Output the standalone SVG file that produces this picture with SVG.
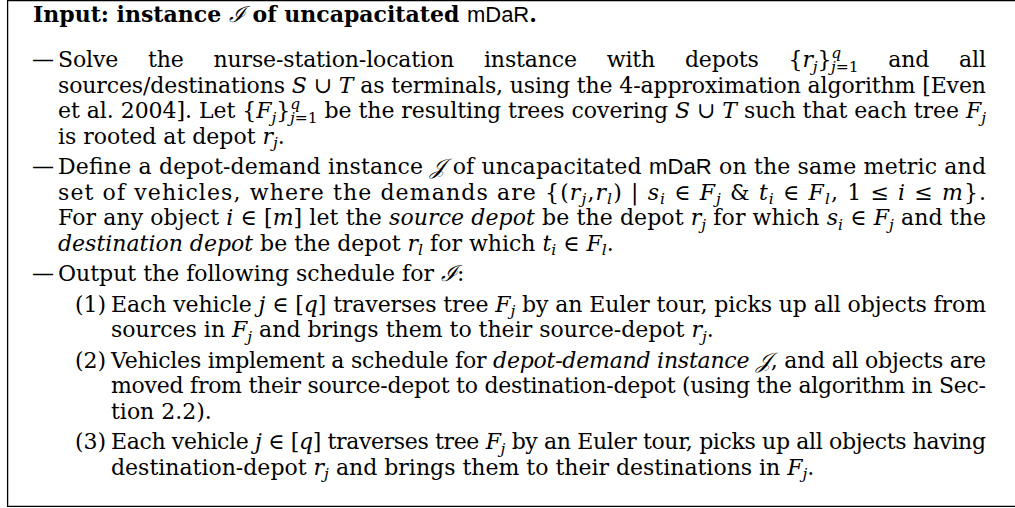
<svg xmlns="http://www.w3.org/2000/svg" width="1015" height="508" viewBox="0 0 1015 508">
<style>
.t{font-family:"DejaVu Serif","Liberation Serif",serif;font-size:22px;fill:#000}
.i{font-style:italic}
.b{font-weight:bold}
.n{font-weight:normal}
.sf{font-family:"Liberation Sans","DejaVu Sans",sans-serif}
.s{font-size:15.5px;font-style:italic}
.box{fill:none;stroke:#000;stroke-width:1.3}
</style>
<rect width="1015" height="508" fill="#fff"/>
<path class="box" d="M1016,0.7 H7.6 V506.3 H1016"/>
<g id="heading">
<text class="t b" x="33" y="22">Input: instance <tspan class="i n">ℐ</tspan> of uncapacitated <tspan class="sf n">mDaR</tspan>.</text>
</g>
<g id="item1">
<text class="t" x="32" y="67">—</text>
<text class="t" x="58" y="67" textLength="928" lengthAdjust="spacing" style="word-spacing:23px">Solve the nurse-station-location instance with depots {<tspan class="i">r</tspan><tspan class="s" dy="4.5">j</tspan><tspan dy="-4.5">}</tspan><tspan class="s" dy="-9">q</tspan><tspan class="s" dx="-10" dy="14">j</tspan><tspan font-size="15.5px">=1</tspan><tspan dy="-5"> and all</tspan></text>
<text class="t" x="58" y="92.5" textLength="928" lengthAdjust="spacing">sources/destinations <tspan class="i">S</tspan> ∪ <tspan class="i">T</tspan> as terminals, using the 4-approximation algorithm [Even</text>
<text class="t" x="58" y="118" textLength="928" lengthAdjust="spacing">et al. 2004]. Let {<tspan class="i">F</tspan><tspan class="s" dy="4.5">j</tspan><tspan dy="-4.5">}</tspan><tspan class="s" dy="-9">q</tspan><tspan class="s" dx="-10" dy="14">j</tspan><tspan font-size="15.5px">=1</tspan><tspan dy="-5"> be the resulting trees covering </tspan><tspan class="i">S</tspan> ∪ <tspan class="i">T</tspan> such that each tree <tspan class="i">F</tspan><tspan class="s" dy="4.5">j</tspan></text>
<text class="t" x="58" y="143.5">is rooted at depot <tspan class="i">r</tspan><tspan class="s" dy="4.5">j</tspan><tspan dy="-4.5">.</tspan></text>
</g>
<g id="item2">
<text class="t" x="32" y="174">—</text>
<text class="t" x="58" y="174" textLength="928" lengthAdjust="spacing">Define a depot-demand instance <tspan class="i">𝒥</tspan> of uncapacitated <tspan class="sf">mDaR</tspan> on the same metric and</text>
<text class="t" x="58" y="199.5" textLength="928" lengthAdjust="spacing">set of vehicles, where the demands are {(<tspan class="i">r</tspan><tspan class="s" dy="4.5">j</tspan><tspan dy="-4.5">,</tspan><tspan class="i">r</tspan><tspan class="s" dy="4.5">l</tspan><tspan dy="-4.5">) | </tspan><tspan class="i">s</tspan><tspan class="s" dy="4.5">i</tspan><tspan dy="-4.5"> ∈ </tspan><tspan class="i">F</tspan><tspan class="s" dy="4.5">j</tspan><tspan dy="-4.5"> &amp; </tspan><tspan class="i">t</tspan><tspan class="s" dy="4.5">i</tspan><tspan dy="-4.5"> ∈ </tspan><tspan class="i">F</tspan><tspan class="s" dy="4.5">l</tspan><tspan dy="-4.5">, 1 ≤ </tspan><tspan class="i">i</tspan> ≤ <tspan class="i">m</tspan>}.</text>
<text class="t" x="58" y="225" textLength="928" lengthAdjust="spacing">For any object <tspan class="i">i</tspan> ∈ [<tspan class="i">m</tspan>] let the <tspan class="i">source depot</tspan> be the depot <tspan class="i">r</tspan><tspan class="s" dy="4.5">j</tspan><tspan dy="-4.5"> for which </tspan><tspan class="i">s</tspan><tspan class="s" dy="4.5">i</tspan><tspan dy="-4.5"> ∈ </tspan><tspan class="i">F</tspan><tspan class="s" dy="4.5">j</tspan><tspan dy="-4.5"> and the</tspan></text>
<text class="t" x="58" y="250.5"><tspan class="i">destination depot</tspan> be the depot <tspan class="i">r</tspan><tspan class="s" dy="4.5">l</tspan><tspan dy="-4.5"> for which </tspan><tspan class="i">t</tspan><tspan class="s" dy="4.5">i</tspan><tspan dy="-4.5"> ∈ </tspan><tspan class="i">F</tspan><tspan class="s" dy="4.5">l</tspan><tspan dy="-4.5">.</tspan></text>
</g>
<g id="item3">
<text class="t" x="32" y="281">—</text>
<text class="t" x="58" y="281">Output the following schedule for <tspan class="i">ℐ</tspan>:</text>
</g>
<g id="step1">
<text class="t" x="75" y="311.5">(1)</text>
<text class="t" x="111" y="311.5" textLength="875" lengthAdjust="spacing">Each vehicle <tspan class="i">j</tspan> ∈ [<tspan class="i">q</tspan>] traverses tree <tspan class="i">F</tspan><tspan class="s" dy="4.5">j</tspan><tspan dy="-4.5"> by an Euler tour, picks up all objects from</tspan></text>
<text class="t" x="111" y="337">sources in <tspan class="i">F</tspan><tspan class="s" dy="4.5">j</tspan><tspan dy="-4.5"> and brings them to their source-depot </tspan><tspan class="i">r</tspan><tspan class="s" dy="4.5">j</tspan><tspan dy="-4.5">.</tspan></text>
</g>
<g id="step2">
<text class="t" x="75" y="367.5">(2)</text>
<text class="t" x="111" y="367.5" textLength="875" lengthAdjust="spacing">Vehicles implement a schedule for <tspan class="i">depot-demand instance 𝒥</tspan>, and all objects are</text>
<text class="t" x="111" y="393" textLength="875" lengthAdjust="spacing">moved from their source-depot to destination-depot (using the algorithm in Sec-</text>
<text class="t" x="111" y="418.5">tion 2.2).</text>
</g>
<g id="step3">
<text class="t" x="75" y="449">(3)</text>
<text class="t" x="111" y="449" textLength="875" lengthAdjust="spacing">Each vehicle <tspan class="i">j</tspan> ∈ [<tspan class="i">q</tspan>] traverses tree <tspan class="i">F</tspan><tspan class="s" dy="4.5">j</tspan><tspan dy="-4.5"> by an Euler tour, picks up all objects having</tspan></text>
<text class="t" x="111" y="474.5">destination-depot <tspan class="i">r</tspan><tspan class="s" dy="4.5">j</tspan><tspan dy="-4.5"> and brings them to their destinations in </tspan><tspan class="i">F</tspan><tspan class="s" dy="4.5">j</tspan><tspan dy="-4.5">.</tspan></text>
</g>
<g id="connectors"/>
</svg>
